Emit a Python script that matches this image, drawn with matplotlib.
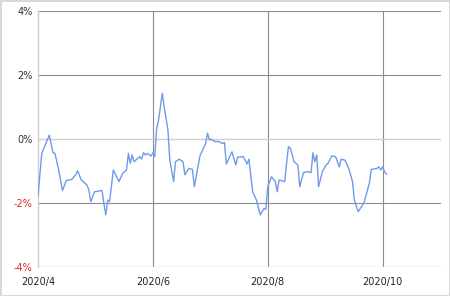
import matplotlib
matplotlib.use("Agg")
import matplotlib.pyplot as plt
import pandas as pd

dates = [
    "2020-04-01", "2020-04-03", "2020-04-07", "2020-04-09", "2020-04-10", "2020-04-12",
    "2020-04-14", "2020-04-16", "2020-04-19", "2020-04-21", "2020-04-22", "2020-04-24",
    "2020-04-27", "2020-04-28", "2020-04-29", "2020-05-01", "2020-05-05", "2020-05-06",
    "2020-05-07", "2020-05-08", "2020-05-09", "2020-05-11", "2020-05-14", "2020-05-16",
    "2020-05-18", "2020-05-19", "2020-05-20", "2020-05-21", "2020-05-22", "2020-05-25",
    "2020-05-26", "2020-05-27", "2020-05-28", "2020-05-29", "2020-05-31", "2020-06-01",
    "2020-06-02", "2020-06-03", "2020-06-04", "2020-06-06", "2020-06-07", "2020-06-09",
    "2020-06-10", "2020-06-12", "2020-06-13", "2020-06-15", "2020-06-17", "2020-06-18",
    "2020-06-20", "2020-06-22", "2020-06-23", "2020-06-26", "2020-06-29", "2020-06-30",
    "2020-07-01", "2020-07-02", "2020-07-04", "2020-07-06", "2020-07-08", "2020-07-09",
    "2020-07-10", "2020-07-13", "2020-07-15", "2020-07-16", "2020-07-19", "2020-07-21",
    "2020-07-22", "2020-07-24", "2020-07-26", "2020-07-28", "2020-07-30", "2020-07-31",
    "2020-08-01", "2020-08-03", "2020-08-05", "2020-08-06", "2020-08-07", "2020-08-10",
    "2020-08-11", "2020-08-12", "2020-08-13", "2020-08-15", "2020-08-17", "2020-08-18",
    "2020-08-20", "2020-08-22", "2020-08-24", "2020-08-25", "2020-08-26", "2020-08-27",
    "2020-08-28", "2020-08-30", "2020-09-01", "2020-09-02", "2020-09-04", "2020-09-06",
    "2020-09-08", "2020-09-09", "2020-09-11", "2020-09-13", "2020-09-15", "2020-09-16",
    "2020-09-18", "2020-09-21", "2020-09-24", "2020-09-25", "2020-09-28", "2020-09-29",
    "2020-09-30", "2020-10-01", "2020-10-02", "2020-10-03",
]
values = [
    -1.78, -0.45, 0.12, -0.43, -0.45, -0.97,
    -1.61, -1.30, -1.26, -1.12, -0.99, -1.28,
    -1.44, -1.59, -1.96, -1.65, -1.61, -2.01,
    -2.37, -1.91, -1.96, -0.97, -1.33, -1.07,
    -0.97, -0.45, -0.76, -0.50, -0.71, -0.55,
    -0.63, -0.43, -0.50, -0.45, -0.53, -0.43,
    -0.55, 0.33, 0.59, 1.43, 1.01, 0.28,
    -0.66, -1.33, -0.71, -0.63, -0.71, -1.12,
    -0.92, -0.95, -1.49, -0.53, -0.14, 0.18,
    -0.03, -0.01, -0.08, -0.08, -0.14, -0.11,
    -0.78, -0.40, -0.81, -0.57, -0.55, -0.78,
    -0.63, -1.65, -1.91, -2.37, -2.17, -2.20,
    -1.49, -1.18, -1.33, -1.65, -1.28, -1.33,
    -0.76, -0.24, -0.29, -0.71, -0.81, -1.49,
    -1.05, -1.02, -1.05, -0.43, -0.71, -0.50,
    -1.49, -1.02, -0.81, -0.76, -0.53, -0.55,
    -0.87, -0.63, -0.66, -0.92, -1.33, -1.91,
    -2.27, -2.01, -1.37, -0.95, -0.92, -0.87,
    -0.97, -0.87, -1.02, -1.10,
]
x_ticks = ["2020-04-01", "2020-06-01", "2020-08-01", "2020-10-01"]
x_tick_labels = ["2020/4", "2020/6", "2020/8", "2020/10"]
y_ticks = [-4, -2, 0, 2, 4]
y_tick_labels = ["-4%", "-2%", "0%", "2%", "4%"]

dark = "#8c8c8c"
light = "#cfcfcf"

x = pd.to_datetime(dates)
fig = plt.figure(figsize=(4.5, 2.96), dpi=100, edgecolor="#d8d8d8", linewidth=1.0)
ax = fig.add_axes([38 / 450, 1 - 267 / 296, 403 / 450, 256 / 296])

for t in x_ticks[1:]:
    ax.axvline(pd.Timestamp(t), color=dark, lw=0.8, zorder=1)
for v in y_ticks:
    c = light if v in (0, -4) else dark
    ax.axhline(v, color=c, lw=1.0 if c == light else 0.8, zorder=1)

ax.plot(x, values, color="#6f9be8", lw=1.0, zorder=3)

ax.set_xlim(pd.Timestamp("2020-04-01"), pd.Timestamp("2020-11-01"))
ax.set_ylim(-4, 4)
ax.set_xticks(pd.to_datetime(x_ticks))
ax.set_xticklabels(x_tick_labels)
ax.set_yticks(y_ticks)
ax.set_yticklabels(y_tick_labels)
for lab, v in zip(ax.get_yticklabels(), y_ticks):
    lab.set_color("#e0282a" if v < 0 else "#333333")
for lab in ax.get_xticklabels():
    lab.set_color("#222222")

ax.tick_params(length=0, labelsize=7)
ax.tick_params(axis="y", pad=4)
ax.tick_params(axis="x", pad=7)
for s in ["top", "right", "bottom"]:
    ax.spines[s].set_visible(False)
ax.spines["left"].set_color(light)
ax.spines["left"].set_linewidth(1.0)

fig.savefig("out.png", dpi=100, edgecolor=fig.get_edgecolor())
